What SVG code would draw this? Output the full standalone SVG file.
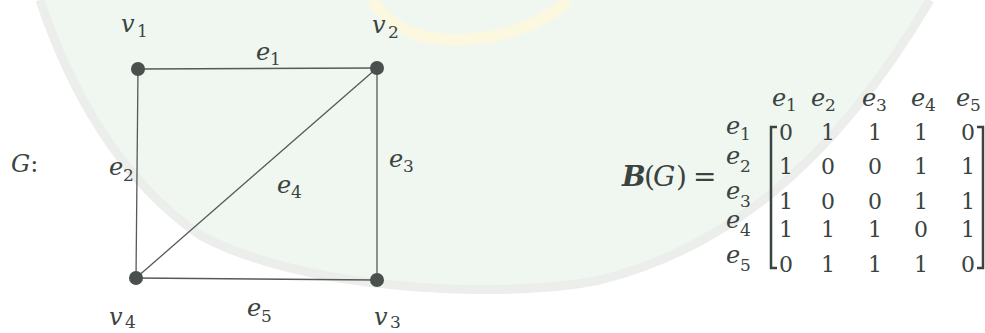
<svg xmlns="http://www.w3.org/2000/svg" width="985" height="333" viewBox="0 0 985 333">
<style>
.t{font-family:"DejaVu Serif","Liberation Serif",serif;fill:#3b4340}
.v{font-style:italic;font-size:24px}
.s{font-style:normal;font-size:17px}
.d{font-size:22px;text-anchor:middle}
.edge{stroke:#555a57;stroke-width:1.3;fill:none}
.node{fill:#4a504d}
</style>
<rect width="985" height="333" fill="#ffffff"/>
<g id="watermark">
<path d="M40,0 C70,90 120,180 200,235 C300,290 500,300 600,280 C720,250 830,170 930,0 Z" fill="#eff7f0"/>
<path d="M40,0 C70,90 120,180 200,235 C300,290 500,300 600,280 C720,250 830,170 930,0" fill="none" stroke="#eceeec" stroke-width="9"/>
<path d="M372,0 Q400,42 460,40 Q530,36 568,0" fill="none" stroke="#fbf8df" stroke-width="12"/>
</g>
<g id="connectors">
<line class="edge" x1="138" y1="69" x2="377" y2="68"/>
<line class="edge" x1="138" y1="69" x2="136" y2="278"/>
<line class="edge" x1="377" y1="68" x2="377" y2="280"/>
<line class="edge" x1="377" y1="68" x2="136" y2="278"/>
<line class="edge" x1="136" y1="278" x2="377" y2="280"/>
</g>
<g id="v1"><circle class="node" cx="138" cy="69" r="7"/><text class="t v" x="121" y="32">v<tspan class="s" x="137" y="37">1</tspan></text></g>
<g id="v2"><circle class="node" cx="377" cy="68" r="7"/><text class="t v" x="372" y="33">v<tspan class="s" x="388" y="38">2</tspan></text></g>
<g id="v3"><circle class="node" cx="377" cy="280" r="7"/><text class="t v" x="374" y="325">v<tspan class="s" x="390" y="328">3</tspan></text></g>
<g id="v4"><circle class="node" cx="136" cy="278" r="7"/><text class="t v" x="109" y="325">v<tspan class="s" x="125" y="328">4</tspan></text></g>
<g id="edge-labels">
<text class="t v" x="256" y="60">e<tspan class="s" x="270" y="65">1</tspan></text>
<text class="t v" x="109" y="175">e<tspan class="s" x="123" y="181">2</tspan></text>
<text class="t v" x="389" y="167">e<tspan class="s" x="403" y="172">3</tspan></text>
<text class="t v" x="277" y="193">e<tspan class="s" x="291" y="198">4</tspan></text>
<text class="t v" x="247" y="316">e<tspan class="s" x="261" y="322">5</tspan></text>
<text class="t v" x="11" y="172">G<tspan style="font-style:normal">:</tspan></text>
</g>
<g id="matrix">
<text class="t" style="font-size:28px;font-weight:bold;font-style:italic" x="622" y="186">B</text>
<text class="t" style="font-size:28px" x="644" y="186">(</text>
<text class="t" style="font-size:28px;font-style:italic" x="653" y="186">G</text>
<text class="t" style="font-size:28px" x="676" y="186">)</text>
<text class="t" style="font-size:28px" x="693" y="186">=</text>
<g id="col-headers">
<text class="t v" x="772" y="106">e<tspan class="s" x="786" y="111">1</tspan></text>
<text class="t v" x="811" y="106">e<tspan class="s" x="825" y="111">2</tspan></text>
<text class="t v" x="862" y="106">e<tspan class="s" x="876" y="111">3</tspan></text>
<text class="t v" x="911" y="106">e<tspan class="s" x="925" y="111">4</tspan></text>
<text class="t v" x="956" y="106">e<tspan class="s" x="970" y="111">5</tspan></text>
</g>
<g id="row-headers">
<text class="t v" x="726" y="134">e<tspan class="s" x="740" y="140">1</tspan></text>
<text class="t v" x="726" y="164">e<tspan class="s" x="740" y="172">2</tspan></text>
<text class="t v" x="726" y="199">e<tspan class="s" x="740" y="207">3</tspan></text>
<text class="t v" x="726" y="228">e<tspan class="s" x="740" y="236">4</tspan></text>
<text class="t v" x="726" y="263">e<tspan class="s" x="740" y="271">5</tspan></text>
</g>
<path d="M777,127 H771 V268 H777" fill="none" stroke="#3b4340" stroke-width="2.5"/>
<path d="M977,127 H983 V268 H977" fill="none" stroke="#3b4340" stroke-width="2.5"/>
<g id="entries">
<text class="t d" x="786" y="140">0</text><text class="t d" x="828" y="140">1</text><text class="t d" x="875" y="140">1</text><text class="t d" x="921" y="140">1</text><text class="t d" x="968" y="140">0</text>
<text class="t d" x="786" y="174">1</text><text class="t d" x="828" y="174">0</text><text class="t d" x="875" y="174">0</text><text class="t d" x="921" y="174">1</text><text class="t d" x="968" y="174">1</text>
<text class="t d" x="786" y="209">1</text><text class="t d" x="828" y="209">0</text><text class="t d" x="875" y="209">0</text><text class="t d" x="921" y="209">1</text><text class="t d" x="968" y="209">1</text>
<text class="t d" x="786" y="237">1</text><text class="t d" x="828" y="237">1</text><text class="t d" x="875" y="237">1</text><text class="t d" x="921" y="237">0</text><text class="t d" x="968" y="237">1</text>
<text class="t d" x="786" y="272">0</text><text class="t d" x="828" y="272">1</text><text class="t d" x="875" y="272">1</text><text class="t d" x="921" y="272">1</text><text class="t d" x="968" y="272">0</text>
</g>
</g>
</svg>
